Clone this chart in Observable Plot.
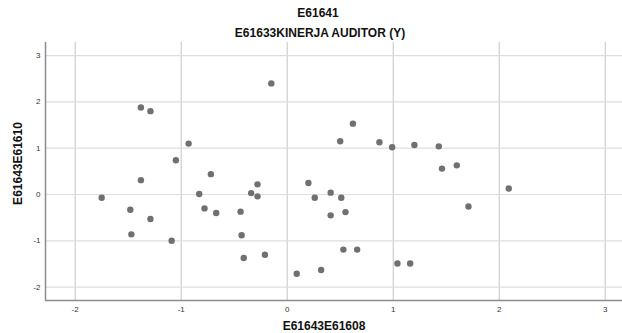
<!DOCTYPE html>
<html><head><meta charset="utf-8">
<script src="https://cdn.jsdelivr.net/npm/d3@7"></script>
<script src="https://cdn.jsdelivr.net/npm/@observablehq/plot@0.6"></script>
<style>body{margin:0;background:#fff} svg{display:block}</style>
</head><body><div id="chart"></div>
<script>
const title = "E61641";
const subtitle = "E61633KINERJA AUDITOR (Y)";
const xLabel = "E61643E61608";
const yLabel = "E61643E61610";
const xTicks = [-2, -1, 0, 1, 2, 3];
const yTicks = [-2, -1, 0, 1, 2, 3];
const xDomain = [-2.28, 3.163];
const yDomain = [-2.289, 3.283];
const xValues = [-0.15, -1.38, -1.29, -0.93, -1.05, -0.72, -1.38, -0.28, 0.20, -1.75,
  -0.83, -0.34, -0.28, -1.48, -0.78, -0.67, -0.44, -1.29, -1.47, -1.09,
  -0.43, -0.41, -0.21, 0.09, 0.62, 0.50, 0.87, 0.99, 1.20, 1.43,
  1.46, 1.60, 2.09, 0.26, 0.41, 0.51, 0.41, 0.55, 1.71, 0.53,
  0.66, 0.32, 1.04, 1.16];
const yValues = [2.40, 1.88, 1.80, 1.10, 0.74, 0.44, 0.31, 0.22, 0.25, -0.07,
  0.01, 0.03, -0.04, -0.33, -0.30, -0.40, -0.37, -0.53, -0.86, -1.00,
  -0.88, -1.37, -1.30, -1.71, 1.53, 1.15, 1.13, 1.02, 1.07, 1.04,
  0.56, 0.63, 0.13, -0.07, 0.04, -0.07, -0.45, -0.38, -0.26, -1.19,
  -1.19, -1.63, -1.49, -1.49];
const data = xValues.map((x, i) => ({x, y: yValues[i]}));
const fmt = d => String(d);
const font = "'Liberation Sans', Arial, sans-serif";
const chart = Plot.plot({
  width: 622, height: 333,
  marginTop: 42, marginBottom: 33, marginLeft: 45, marginRight: 0,
  style: {fontFamily: font, background: "#fff"},
  x: {domain: xDomain, label: null},
  y: {domain: yDomain, label: null},
  marks: [
    Plot.gridX(xTicks, {stroke: "#c4c4c4", strokeOpacity: 1}),
    Plot.gridY(yTicks, {stroke: "#dedede", strokeOpacity: 1, strokeWidth: 1.2}),
    Plot.axisX(xTicks, {tickSize: 0, tickPadding: 6, tickFormat: fmt, fontSize: 8, fill: "#333", label: null}),
    Plot.axisY(yTicks, {tickSize: 0, tickPadding: 5, tickFormat: fmt, fontSize: 8, fill: "#333", label: null}),
    Plot.ruleX([xDomain[0]], {stroke: "#8c8c8c", strokeWidth: 1.5}),
    Plot.ruleY([yDomain[0]], {stroke: "#8c8c8c", strokeWidth: 1.5}),
    Plot.dot(data, {x: "x", y: "y", r: 3.2, fill: "#707070", stroke: null}),
    Plot.text([title], {frameAnchor: "top", dx: -16, dy: -29, lineAnchor: "middle", fontSize: 12, fontWeight: "bold", fill: "#111"}),
    Plot.text([subtitle], {frameAnchor: "top", dx: -14, dy: -9, lineAnchor: "middle", fontSize: 12, fontWeight: "bold", fill: "#111"}),
    Plot.text([xLabel], {frameAnchor: "bottom", dx: -10, dy: 26, lineAnchor: "middle", fontSize: 12, fontWeight: "bold", fill: "#111"}),
    Plot.text([yLabel], {frameAnchor: "left", dx: -27, dy: -8, textAnchor: "middle", lineAnchor: "middle", rotate: -90, fontSize: 12, fontWeight: "bold", fill: "#111"})
  ]
});
document.getElementById("chart").append(chart);
</script>
</body></html>
